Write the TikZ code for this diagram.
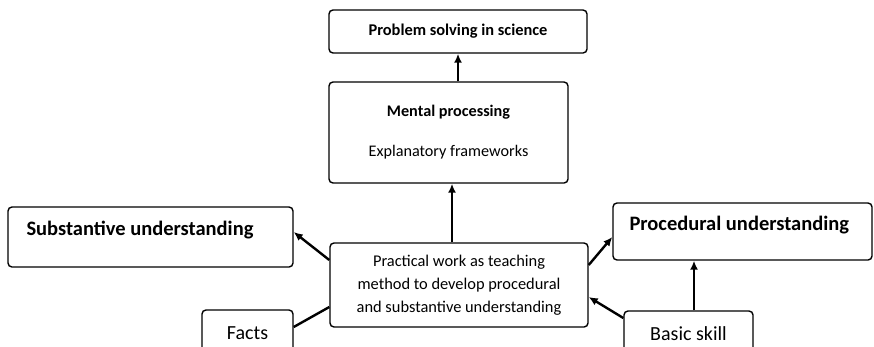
\documentclass[tikz,border=0pt]{standalone}
\usepackage{fontspec}
\setmainfont{Carlito}
\usetikzlibrary{positioning,arrows.meta,calc}
\tikzset{
  box/.style={draw, line width=1.4pt, rounded corners=4pt, inner sep=0pt},
  link/.style={line width=2.4pt, -{Latex[length=9pt,width=8pt]}},
  plain link/.style={line width=2.4pt}}

\begin{document}
\begin{tikzpicture}[x=1pt, y=-1pt]
        \clip (0,0) rectangle (874,346);
        % boxes
        \node[box, minimum width=258pt, minimum height=43pt,
              font=\fontsize{16.4}{18}\selectfont\bfseries] (prob) at (458,31.5)
          {Problem solving in science};
        \node[box, minimum width=239pt, minimum height=101pt, align=center,
              font=\fontsize{16.2}{18}\selectfont] (mental) at (448.5,132.5)
          {\textbf{Mental processing}\\[22pt] Explanatory frameworks};
        \node[box, minimum width=285pt, minimum height=60pt] (subst) at (150.5,237) {};
        \node[anchor=west, inner sep=0pt, font=\fontsize{20.5}{22}\selectfont\bfseries]
          (subst text) at ($(subst.west)+(19,-7)$) {Substantive understanding};
        \node[box, minimum width=259pt, minimum height=57pt] (proc) at (742.5,231.5) {};
        \node[anchor=west, inner sep=0pt, font=\fontsize{20.5}{22}\selectfont\bfseries]
          (proc text) at ($(proc.west)+(17,-6.5)$) {Procedural understanding};
        \node[box, minimum width=258pt, minimum height=84pt, align=center,
              font=\fontsize{16.4}{23}\selectfont] (prac) at (459,285)
          {Practical work as teaching\\ method to develop procedural\\ and substantive understanding};
        \node[box, minimum width=91pt, minimum height=46pt,
              font=\fontsize{20}{22}\selectfont] (facts) at (247.5,333) {Facts};
        \node[box, minimum width=129pt, minimum height=46pt,
              font=\fontsize{20}{22}\selectfont] (basic) at (688.5,334) {Basic skill};
        % connectors
        \draw[link] (mental.north -| prob.south) -- (prob.south);
        \draw[link] (prac.north -| 452,0) -- (mental.south -| 452,0);
        \draw[link] ($(prac.west)+(0,-25)$) -- ($(subst.east)+(0,-5)$);
        \draw[plain link] ($(facts.east)+(0,-6)$) -- ($(prac.west)+(0,22)$);
        \draw[link] ($(prac.east)+(0,-20)$) -- ($(proc.west)+(0,5.5)$);
        \draw[link] ($(basic.west)+(0,-16)$) -- ($(prac.east)+(0,12)$);
        \draw[link] (basic.north -| 694,0) -- (proc.south -| 694,0);
\end{tikzpicture}
\end{document}
